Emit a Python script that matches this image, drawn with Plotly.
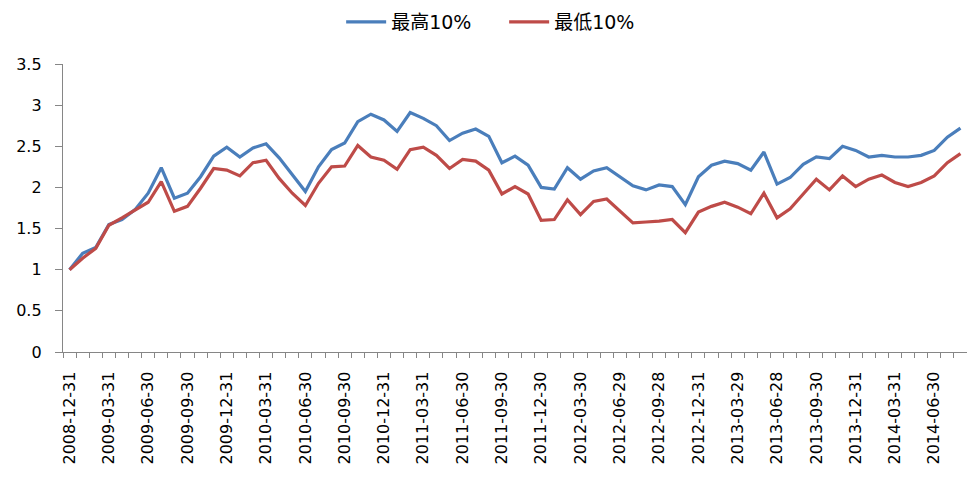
import plotly.graph_objects as go

dates = [
    "2008-12-31",
    "2009-01-23", "2009-02-27", "2009-03-31", "2009-04-30", "2009-05-27", "2009-06-30",
    "2009-07-31", "2009-08-31", "2009-09-30", "2009-10-30", "2009-11-30", "2009-12-31",
    "2010-01-29", "2010-02-26", "2010-03-31", "2010-04-30", "2010-05-31", "2010-06-30",
    "2010-07-30", "2010-08-31", "2010-09-30", "2010-10-29", "2010-11-30", "2010-12-31",
    "2011-01-31", "2011-02-28", "2011-03-31", "2011-04-29", "2011-05-31", "2011-06-30",
    "2011-07-29", "2011-08-31", "2011-09-30", "2011-10-31", "2011-11-30", "2011-12-30",
    "2012-01-31", "2012-02-29", "2012-03-30", "2012-04-27", "2012-05-31", "2012-06-29",
    "2012-07-31", "2012-08-31", "2012-09-28", "2012-10-31", "2012-11-30", "2012-12-31",
    "2013-01-31", "2013-02-28", "2013-03-29", "2013-04-26", "2013-05-31", "2013-06-28",
    "2013-07-31", "2013-08-30", "2013-09-30", "2013-10-31", "2013-11-29", "2013-12-31",
    "2014-01-30", "2014-02-28", "2014-03-31", "2014-04-30", "2014-05-30", "2014-06-30",
    "2014-07-31", "2014-08-29",
]

top10 = [
    1.00, 1.20, 1.27, 1.55, 1.61, 1.73, 1.93, 2.24, 1.87, 1.93,
    2.13, 2.38, 2.49, 2.37, 2.48, 2.53, 2.36, 2.16, 1.95, 2.25,
    2.46, 2.54, 2.80, 2.89, 2.82, 2.68, 2.91, 2.84, 2.75, 2.57,
    2.66, 2.71, 2.62, 2.30, 2.38, 2.27, 2.00, 1.98, 2.24, 2.10,
    2.20, 2.24, 2.13, 2.02, 1.97, 2.03, 2.01, 1.79, 2.13, 2.27,
    2.32, 2.29, 2.21, 2.43, 2.04, 2.12, 2.28, 2.37, 2.35, 2.50,
    2.45, 2.37, 2.39, 2.37, 2.37, 2.39, 2.45, 2.61, 2.72,
]

bottom10 = [
    1.00, 1.14, 1.26, 1.54, 1.63, 1.73, 1.82, 2.07, 1.71, 1.77,
    1.99, 2.23, 2.21, 2.14, 2.30, 2.33, 2.11, 1.93, 1.78, 2.05,
    2.25, 2.26, 2.51, 2.37, 2.33, 2.22, 2.46, 2.49, 2.39, 2.23,
    2.34, 2.32, 2.21, 1.92, 2.01, 1.92, 1.60, 1.61, 1.85, 1.67,
    1.83, 1.86, 1.71, 1.57, 1.58, 1.59, 1.61, 1.45, 1.70, 1.77,
    1.82, 1.76, 1.68, 1.93, 1.63, 1.74, 1.92, 2.10, 1.97, 2.14,
    2.01, 2.10, 2.15, 2.06, 2.01, 2.06, 2.14, 2.30, 2.41,
]

series_names = ["最高10%", "最低10%"]
label_every = 3
tick_text = [d if i % label_every == 0 else "" for i, d in enumerate(dates)]

font_family = "DejaVu Sans, Noto Sans CJK SC, sans-serif"
axis_color = "#868686"

fig = go.Figure()
fig.add_trace(go.Scatter(x=dates, y=top10, mode="lines", name=series_names[0],
                         line=dict(color="#4A7EBB", width=3.2)))
fig.add_trace(go.Scatter(x=dates, y=bottom10, mode="lines", name=series_names[1],
                         line=dict(color="#BE4B48", width=3.2)))

fig.update_layout(
    width=975, height=483,
    margin=dict(l=55, r=16, t=56, b=139, autoexpand=False),
    paper_bgcolor="white", plot_bgcolor="white",
    font=dict(family=font_family, size=16, color="#000000"),
    showlegend=True,
    legend=dict(orientation="h", x=0.488, xanchor="center",
                yref="container", y=0.971, yanchor="middle",
                font=dict(family=font_family, size=19),
                itemwidth=40, tracegroupgap=0,
                entrywidth=108, entrywidthmode="pixels"),
    xaxis=dict(
        type="category", automargin=False,
        tickmode="array", tickvals=dates, ticktext=tick_text,
        tickson="boundaries",
        ticks="outside", ticklen=5, tickcolor=axis_color, tickwidth=1.3,
        tickangle=-90,
        showline=True, linecolor=axis_color, linewidth=1.3,
        showgrid=False, zeroline=False,
        range=[-0.5, len(dates) - 0.5],
        tickfont=dict(family=font_family, size=16),
        ticklabelstandoff=12,
    ),
    yaxis=dict(
        range=[0, 3.5], dtick=0.5, tick0=0, automargin=False,
        ticks="outside", ticklen=7, tickcolor=axis_color, tickwidth=1.3,
        showline=True, linecolor=axis_color, linewidth=1.3,
        showgrid=False, zeroline=False,
        tickfont=dict(family=font_family, size=16),
        ticklabelstandoff=10,
    ),
)

fig.write_html("out.html")
